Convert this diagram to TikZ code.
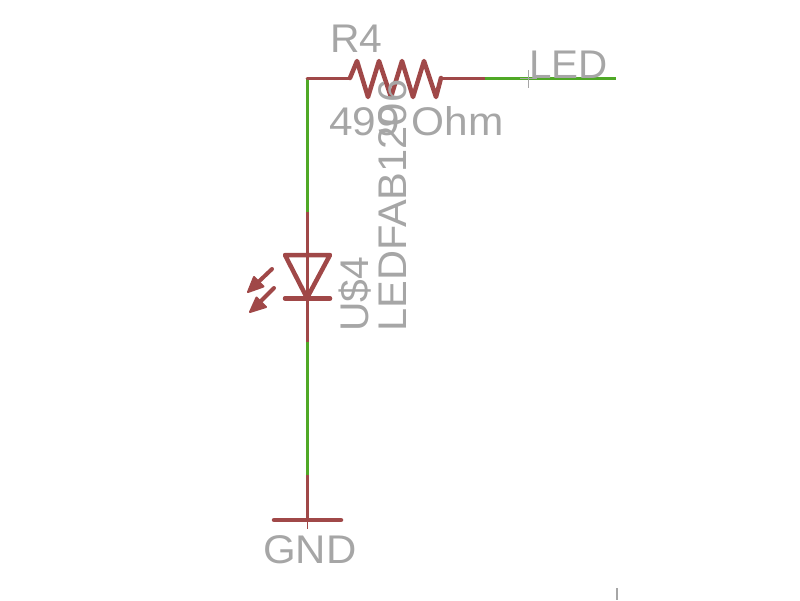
\documentclass[tikz,border=0pt]{standalone}
\usepackage{fontspec}
\setmainfont{Liberation Sans}
\definecolor{netgreen}{HTML}{4FA826}
\definecolor{symred}{HTML}{A04848}
\definecolor{labgray}{HTML}{A6A6A6}
\tikzset{
  wire/.style={netgreen,line width=3pt},
  lead/.style={symred,line width=3pt},
  body/.style={symred,line width=4.5pt,line join=round,line cap=round},
  thin mark/.style={labgray,line width=1pt},
  lab/.style={labgray,inner sep=0pt,anchor=base west,font=\fontsize{40}{40}\selectfont},
  vlab/.style={lab,rotate=90},
  ray/.style={symred,line width=4pt,line cap=round},
  rayhead/.style={symred,fill=symred,line width=2pt,line join=round}
}
\begin{document}
\begin{tikzpicture}[x=1pt,y=-1pt]
\useasboundingbox (0,0) rectangle (800,600);
% junctions
\coordinate (corner) at (307,78);
\coordinate (rl) at (350,78);
\coordinate (rr) at (441,78);
\coordinate (rw) at (485,78);
\coordinate (ledend) at (616,78);
\coordinate (dtopw) at (307,212);
\coordinate (dbotw) at (307,342);
\coordinate (gndw) at (307,475);
\coordinate (gndc) at (307,520);
\coordinate (apex) at (307,298);
% wires
\draw[wire] (corner) -- (dtopw);
\draw[wire] (dbotw) -- (gndw);
\draw[wire] (rw) -- (ledend);
% resistor
\draw[lead,line cap=round] (corner) -- (rl);
\draw[lead] (rr) -- (rw);
\draw[body] (rl) -- (357,61) -- (368,97) -- (379,61) -- (391,97) -- (402,61) -- (413,97) -- (424,61) -- (436,97) -- (rr);
% diode
\draw[lead] (dtopw) -- (dbotw);
\draw[body] (285,255) -- (330,255) -- (apex) -- cycle;
\draw[body] (285,298.5) -- (330,298.5);
% light arrows
\draw[ray] (272,269) -- (252,288);
\draw[rayhead] (248,292) -- (254,277) -- (263.5,286.5) -- cycle;
\draw[ray] (274,288) -- (254,308);
\draw[rayhead] (250,312) -- (256.5,297.5) -- (266,307) -- cycle;
% ground
\draw[lead] (gndw) -- (gndc);
\draw[symred,line width=1pt] (gndc) -- (307,529);
\draw[body] (274,520) -- (341,520);
% origin marks
\draw[thin mark] (520,78) -- (537,78);
\draw[thin mark] (528,70) -- (528,88);
\draw[labgray,line width=2pt] (617,588) -- (617,600);
% labels
\node[lab,xscale=1.02] (r4) at (330,52) {R4};
\node[lab,xscale=1.06] (val) at (329,135) {499 Ohm};
\node[lab,xscale=1.01] (led) at (529,78) {LED};
\node[lab,xscale=1.05] (gnd) at (263,563) {GND};
\node[vlab,xscale=1.02] (us) at (368,332) {U\$4};
\node[vlab,xscale=1.04] (part) at (406,332) {LEDFAB1206};
\end{tikzpicture}
\end{document}
